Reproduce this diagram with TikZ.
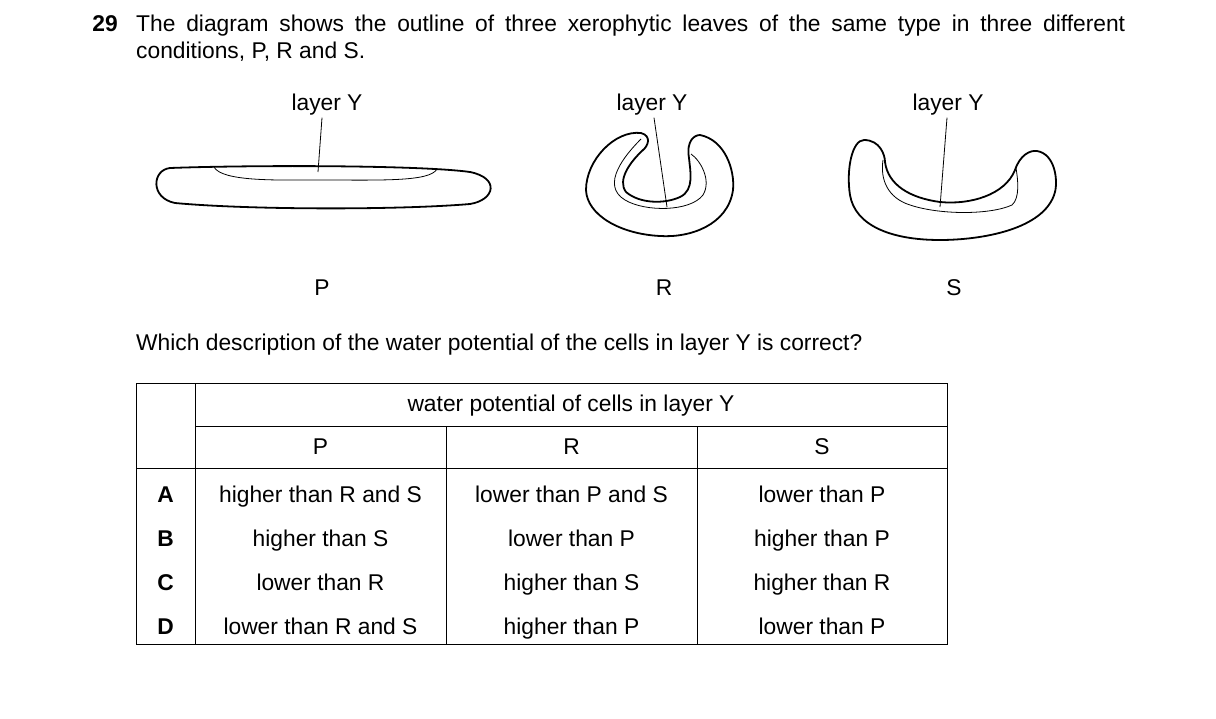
\documentclass[tikz,border=0pt]{standalone}
\usepackage{fontspec}
\setmainfont{Liberation Sans}
\usetikzlibrary{positioning}

\begin{document}
\begin{tikzpicture}[x=1pt,y=-1pt,font=\fontsize{22.8}{27}\selectfont]
\tikzstyle{every node}+=[inner sep=0pt,text height=16pt,text depth=5pt,yshift=-2pt]
\tikzset{leaf/.style={line width=1.8pt,line join=round},
  layer/.style={line width=0.8pt}}
\useasboundingbox (0,0) rectangle (1216,718);
% question
\node [anchor=north east,font=\fontsize{22.8}{27}\bfseries] (num) at (118,13) {29};
\node [anchor=north west,text width=989pt,align=justify,text height=,text depth=] (q) at (136,13)
  {The diagram shows the outline of three xerophytic leaves of the same type in three different\linebreak conditions, P, R and S.};
% leaf P
\draw [leaf] (170,168) .. controls (250,165) and (420,165) .. (470,172)
  .. controls (500,178) and (495,200) .. (470,204)
  .. controls (400,210) and (250,210) .. (175,203)
  .. controls (150,198) and (152,170) .. (170,168) -- cycle;
\draw [layer] (214,167) .. controls (222,182) and (280,180) .. (320,180)
  .. controls (380,180) and (430,182) .. (437,169);
% leaf R
\draw [leaf] (641,133) .. controls (652,136) and (648,146) .. (643,150)
  .. controls (630,162) and (617,180) .. (626,192)
  .. controls (640,204) and (665,204) .. (680,197)
  .. controls (695,190) and (690,170) .. (689,158)
  .. controls (686,140) and (695,135) .. (700,135)
  .. controls (725,140) and (735,170) .. (733,190)
  .. controls (728,225) and (690,238) .. (660,236)
  .. controls (620,234) and (587,215) .. (586,190)
  .. controls (586,160) and (615,130) .. (641,133) -- cycle;
\draw [layer] (641,139) .. controls (625,155) and (600,185) .. (625,200)
  .. controls (645,212) and (690,212) .. (703,195)
  .. controls (712,180) and (700,160) .. (691,154);
% leaf S
\draw [leaf] (864,140) .. controls (880,140) and (885,155) .. (885,162)
  .. controls (888,185) and (910,198) .. (940,202)
  .. controls (970,205) and (1005,195) .. (1015,170)
  .. controls (1020,155) and (1030,150) .. (1037,151)
  .. controls (1055,154) and (1058,180) .. (1055,192)
  .. controls (1045,230) and (980,240) .. (940,240)
  .. controls (890,240) and (855,225) .. (850,195)
  .. controls (846,170) and (852,140) .. (864,140) -- cycle;
\draw [layer] (883,160) .. controls (880,180) and (888,198) .. (910,205)
  .. controls (940,215) and (990,215) .. (1012,205)
  .. controls (1020,198) and (1018,180) .. (1016,168);
% labels and pointers
\node (yP) at (327,103) {layer Y};
\node (yR) at (652,103) {layer Y};
\node (yS) at (948,103) {layer Y};
\coordinate (endP) at (318,170);
\coordinate (endR) at (667,205);
\coordinate (endS) at (940,205);
\draw [layer] (yP.south) ++(-5,2) coordinate (sP) -- (endP);
\draw [layer] (yR.south) ++(2,2) coordinate (sR) -- (endR);
\draw [layer] (yS.south) ++(-1,2) coordinate (sS) -- (endS);
\node (labP) at (322,288) {P};
\node (labR) at (664,288) {R};
\node (labS) at (954,288) {S};
\node [anchor=west] (which) at (136,343) {Which description of the water potential of the cells in layer Y is correct?};
% table
\draw [line width=0.8pt] (136,383) rectangle (947,644);
\draw [line width=0.8pt] (195,383) -- (195,644);
\draw [line width=0.8pt] (195,426) -- (947,426);
\draw [line width=0.8pt] (136,468) -- (947,468);
\draw [line width=0.8pt] (446,426) -- (446,644);
\draw [line width=0.8pt] (697,426) -- (697,644);
\node (head) at (571,404) {water potential of cells in layer Y};
\node (hP) at (320.5,447) {P};
\node (hR) at (571.5,447) {R};
\node (hS) at (822,447) {S};
\foreach \y/\k/\p/\r/\s in {495/A/higher than R and S/lower than P and S/lower than P,
  539/B/higher than S/lower than P/higher than P,
  583/C/lower than R/higher than S/higher than R,
  627/D/lower than R and S/higher than P/lower than P} {
  \node [font=\fontsize{22.8}{27}\bfseries] (k\k) at (165.5,\y) {\k};
  \node (p\k) at (320.5,\y) {\p};
  \node (r\k) at (571.5,\y) {\r};
  \node (s\k) at (822,\y) {\s};
}
\end{tikzpicture}
\end{document}
